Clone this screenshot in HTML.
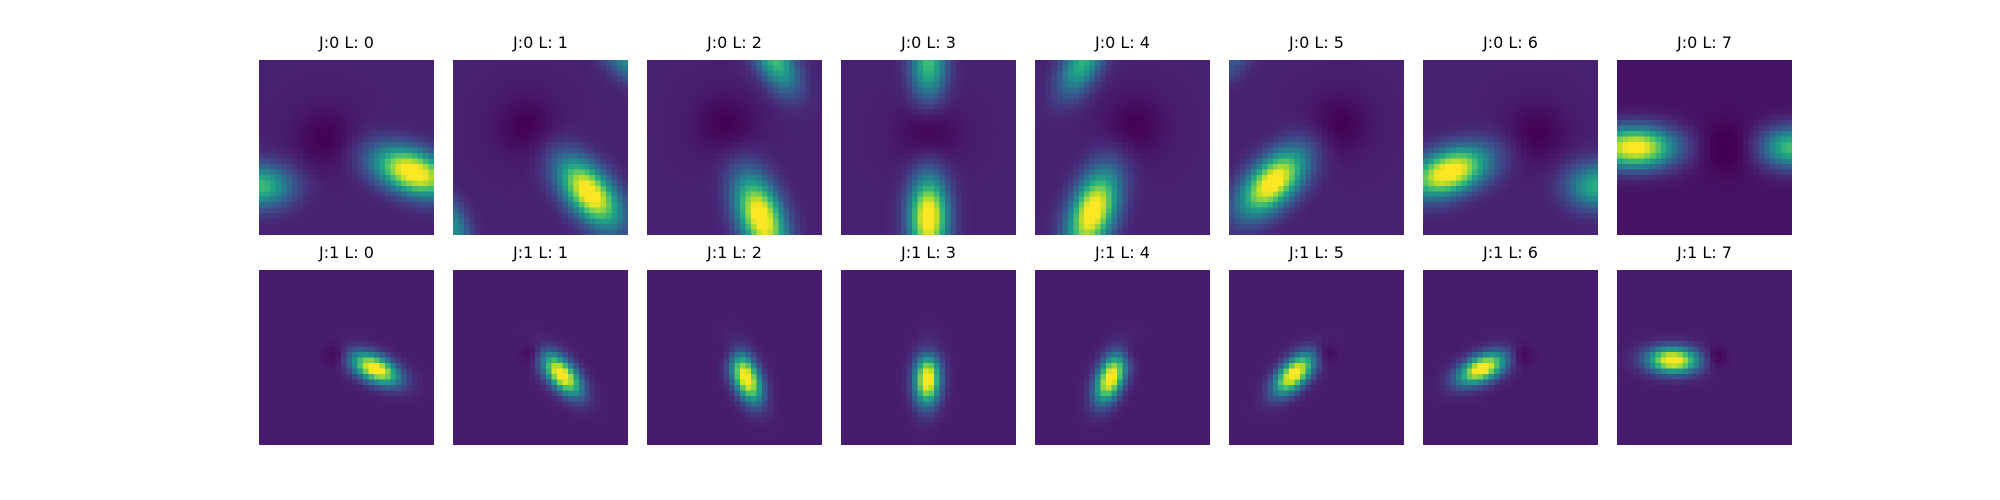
<!DOCTYPE html>
<html><head><meta charset="utf-8"><style>
body{margin:0;background:#fff;width:2000px;height:500px;overflow:hidden;position:relative;font-family:"DejaVu Sans","Liberation Sans",sans-serif}
.t{position:absolute;width:175px;text-align:center;font-size:16px;color:#000;line-height:16px}
canvas{position:absolute;width:175px;height:175px;image-rendering:pixelated}
</style></head><body>
<div id="root"></div>
<script>
const rows = [0, 1];
const orientations = [0, 1, 2, 3, 4, 5, 6, 7];
const backgrounds = [[0.09,0.09,0.09,0.09,0.09,0.09,0.09,0.05],[0.08,0.08,0.08,0.08,0.08,0.08,0.08,0.08]];
// blobs: [cx, cy, sigmaMajor, sigmaMinor, angleDeg, amplitude]
const blobsRow0 = [
 [[0.88,0.64,0.16,0.085,20,1],[0.0,0.72,0.085,0.13,90,0.6],[0.38,0.45,0.12,0.12,0,-0.09]],
 [[0.78,0.76,0.16,0.085,50,1],[0.42,0.38,0.12,0.12,0,-0.09],[1.0,0.0,0.12,0.07,40,0.4],[0.0,0.95,0.12,0.06,70,0.4]],
 [[0.65,0.9,0.17,0.085,70,1],[0.73,0.0,0.14,0.07,60,0.6],[0.45,0.37,0.12,0.12,0,-0.09]],
 [[0.5,0.9,0.16,0.075,90,1],[0.5,0.02,0.14,0.07,90,0.6],[0.5,0.42,0.12,0.12,0,-0.09]],
 [[0.33,0.87,0.17,0.085,110,1],[0.27,0.02,0.14,0.07,120,0.55],[0.57,0.38,0.12,0.12,0,-0.09]],
 [[0.25,0.7,0.16,0.085,135,1],[0.63,0.37,0.12,0.12,0,-0.09],[0.0,0.0,0.1,0.07,135,0.2]],
 [[0.15,0.64,0.16,0.085,160,1],[1.0,0.72,0.09,0.12,90,0.55],[0.65,0.42,0.12,0.12,0,-0.09]],
 [[0.1,0.5,0.16,0.08,180,1],[1.0,0.5,0.08,0.12,90,0.65],[0.62,0.5,0.1,0.1,0,-0.08]]
];
const brightAngles = [25,48,68,92,112,135,155,182];
const brightDist = 0.19;
const darkDist = 0.06;
const viridis=[[68,1,84],[72,35,116],[64,67,135],[52,94,141],[41,120,142],[32,144,140],[34,167,132],[68,190,112],[121,209,81],[189,222,38],[253,231,37]];
function cmap(v){v=Math.max(0,Math.min(1,v));const p=v*10,i=Math.min(9,Math.floor(p)),f=p-i;const a=viridis[i],b=viridis[i+1];return [0,1,2].map(k=>Math.round(a[k]+(b[k]-a[k])*f));}
function blobsFor(r,l){
  if(r===0) return blobsRow0[l];
  const a=brightAngles[l]*Math.PI/180;
  return [[0.5+brightDist*Math.cos(a)*0.95,0.5+brightDist*Math.sin(a)*0.55+0.02,0.1,0.05,brightAngles[l],1],
          [0.5-darkDist*Math.cos(a),0.5-darkDist*Math.sin(a)*0.5,0.045,0.045,0,-0.1]];
}
const root=document.getElementById('root');
const N=32;
rows.forEach(r=>{orientations.forEach(l=>{
  const x=259+l*194, y=r===0?60:270;
  const t=document.createElement('div');t.className='t';
  
  
  t.style.left=x+'px';t.style.top=(y-25)+'px';t.textContent='J:'+r+' L: '+l;root.appendChild(t);
  const c=document.createElement('canvas');c.width=N;c.height=N;
  
  
  c.style.left=x+'px';c.style.top=y+'px';
  const ctx=c.getContext('2d');const img=ctx.createImageData(N,N);
  const bl=blobsFor(r,l);
  for(let j=0;j<N;j++)for(let i=0;i<N;i++){
    const px=(i+0.5)/N,py=(j+0.5)/N;let v=backgrounds[r][l];
    bl.forEach(b=>{const an=b[4]*Math.PI/180,dx=px-b[0],dy=py-b[1];
      const u=dx*Math.cos(an)+dy*Math.sin(an),w=-dx*Math.sin(an)+dy*Math.cos(an);
      v+=b[5]*Math.exp(-(u*u/(2*b[2]*b[2])+w*w/(2*b[3]*b[3])));});
    const col=cmap(v),o=(j*N+i)*4;img.data[o]=col[0];img.data[o+1]=col[1];img.data[o+2]=col[2];img.data[o+3]=255;}
  ctx.putImageData(img,0,0);root.appendChild(c);
});});
</script>
</body></html>
